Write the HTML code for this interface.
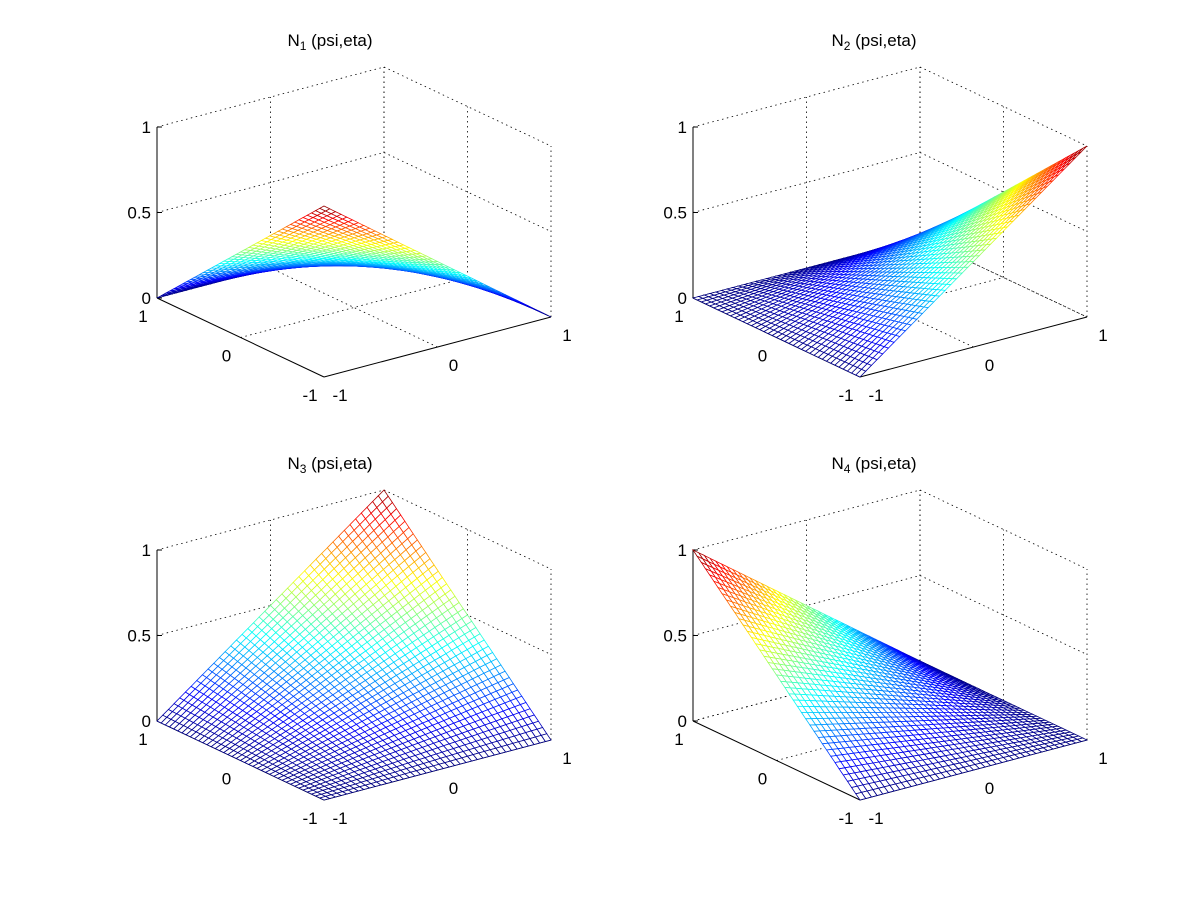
<!DOCTYPE html>
<html><head><meta charset="utf-8"><style>
html,body{margin:0;padding:0;background:#fff;}
svg{display:block;font-family:"Liberation Sans",Arial,sans-serif;}
</style></head><body>
<svg id="fig" width="1201" height="900" viewBox="0 0 1201 900" xmlns="http://www.w3.org/2000/svg"></svg>
<script>
// Data: bilinear shape-function nodal values at corners (-1,-1),(1,-1),(1,1),(-1,1)
const psiGrid = [];
const etaGrid = [];
for (let i = 0; i <= 40; i++) { psiGrid.push(-1 + i * 0.05); etaGrid.push(-1 + i * 0.05); }
const titles = ["1", "2", "3", "4"];
const cornerN1 = [1, 0, 0, 0];
const cornerN2 = [0, 1, 0, 0];
const cornerN3 = [0, 0, 1, 0];
const cornerN4 = [0, 0, 0, 1];
const zTicks = [0, 0.5, 1];
const zTickLabels = ["0", "0.5", "1"];
const xyTicks = [-1, 0, 1];
const xyTickLabels = ["-1", "0", "1"];

const NS = "http://www.w3.org/2000/svg";
const svg = document.getElementById('fig');
function mk(tag, attrs, parent) {
  const e = document.createElementNS(NS, tag);
  for (const k in attrs) e.setAttribute(k, attrs[k]);
  (parent || svg).appendChild(e);
  return e;
}
function jet(t) {
  t = Math.max(0, Math.min(1, t));
  const c = v => Math.round(255 * Math.max(0, Math.min(1, v)));
  return `rgb(${c(1.5 - Math.abs(4*t-3))},${c(1.5 - Math.abs(4*t-2))},${c(1.5 - Math.abs(4*t-1))})`;
}
const panels = [
  {corners: cornerN1, dx: 0, dy: 0, tx: 330, ty: 46, name: "1"},
  {corners: cornerN2, dx: 536, dy: 0, tx: 874, ty: 46, name: "2"},
  {corners: cornerN3, dx: 0, dy: 423, tx: 330, ty: 469, name: "3"},
  {corners: cornerN4, dx: 536, dy: 423, tx: 874, ty: 469, name: "4"}
];
const F0 = [324, 377], R0 = [551, 317], L0 = [157, 298], ZH = 171;

panels.forEach((p, pi) => {
  const g = mk('g', {});
  
  
  const F = [F0[0] + p.dx, F0[1] + p.dy], R = [R0[0] + p.dx, R0[1] + p.dy], L = [L0[0] + p.dx, L0[1] + p.dy];
  const P = (u, v, z) => [F[0] + (u+1)/2*(R[0]-F[0]) + (v+1)/2*(L[0]-F[0]),
                          F[1] + (u+1)/2*(R[1]-F[1]) + (v+1)/2*(L[1]-F[1]) - z*ZH];
  const val = (u, v) => { const c = p.corners;
    return ((1-u)*(1-v)*c[0] + (1+u)*(1-v)*c[1] + (1+u)*(1+v)*c[2] + (1-u)*(1+v)*c[3]) / 4; };
  const line = (a, b, attrs, name) => { const l = mk('line', Object.assign({x1:a[0].toFixed(1),y1:a[1].toFixed(1),x2:b[0].toFixed(1),y2:b[1].toFixed(1)}, attrs), g);
      return l; };
  const dot = {stroke:'#000','stroke-width':0.8,'stroke-dasharray':'1.5,3.5'};
  zTicks.forEach(z => {
    line(P(-1,1,z), P(1,1,z), dot, 'grid-z-wall-back-left');
    line(P(1,1,z), P(1,-1,z), dot, 'grid-z-wall-back-right');
  });
  xyTicks.forEach(t => {
    line(P(t,1,0), P(t,1,1), dot, 'grid-x-wall');
    line(P(1,t,0), P(1,t,1), dot, 'grid-y-wall');
    if (t !== -1) line(P(t,-1,0), P(t,1,0), dot, 'grid-x-floor');
    if (t !== -1) line(P(-1,t,0), P(1,t,0), dot, 'grid-y-floor');
  });
  const solid = {stroke:'#000','stroke-width':1};
  line(P(-1,1,0), P(-1,1,1), solid, 'z-axis');
  line(P(-1,1,0), P(-1,-1,0), solid, 'y-axis');
  line(P(-1,-1,0), P(1,-1,0), solid, 'x-axis');
  zTicks.forEach((z, i) => {
    const a = P(-1,1,z);
    line(a, [a[0]+5, a[1]], solid, 'z-tick');
    const t = mk('text', {x: a[0]-6, y: a[1]+6, 'text-anchor':'end','font-size':17}, g);
     
    t.textContent = zTickLabels[i];
  });
  xyTicks.forEach((v, i) => {
    const a = P(-1, v, 0);
    const t = mk('text', {x: a[0]-14, y: a[1]+24, 'text-anchor':'middle','font-size':17}, g);
     
    t.textContent = xyTickLabels[i];
    const b = P(v, -1, 0);
    const t2 = mk('text', {x: b[0]+16, y: b[1]+24, 'text-anchor':'middle','font-size':17}, g);
     
    t2.textContent = xyTickLabels[i];
  });
  const quads = [];
  for (let i = 0; i < psiGrid.length - 1; i++) for (let j = 0; j < etaGrid.length - 1; j++) {
    const u0 = psiGrid[i], u1 = psiGrid[i+1], v0 = etaGrid[j], v1 = etaGrid[j+1];
    const zs = [val(u0,v0), val(u1,v0), val(u1,v1), val(u0,v1)];
    const depth = P((u0+u1)/2, (v0+v1)/2, 0)[1];
    quads.push({pts:[P(u0,v0,zs[0]),P(u1,v0,zs[1]),P(u1,v1,zs[2]),P(u0,v1,zs[3])], z:(zs[0]+zs[1]+zs[2]+zs[3])/4, depth});
  }
  quads.sort((a, b) => a.depth - b.depth);
  const mg = mk('g', {}, g);
  
  
  quads.forEach(q => {
    const poly = mk('polygon', {points: q.pts.map(p => p[0].toFixed(1)+','+p[1].toFixed(1)).join(' '),
      fill:'#fff', stroke: jet(q.z), 'stroke-width': 0.8}, mg);
    
    
  });
  const tt = mk('text', {x: p.tx, y: p.ty, 'text-anchor':'middle','font-size':17}, g);
  
  
  tt.appendChild(document.createTextNode('N'));
  const sub = mk('tspan', {'font-size':12, dy:4}, tt);
  sub.textContent = titles[pi];
  const rest = mk('tspan', {dy:-4}, tt);
  rest.textContent = ' (psi,eta)';
});
</script>
</body></html>
